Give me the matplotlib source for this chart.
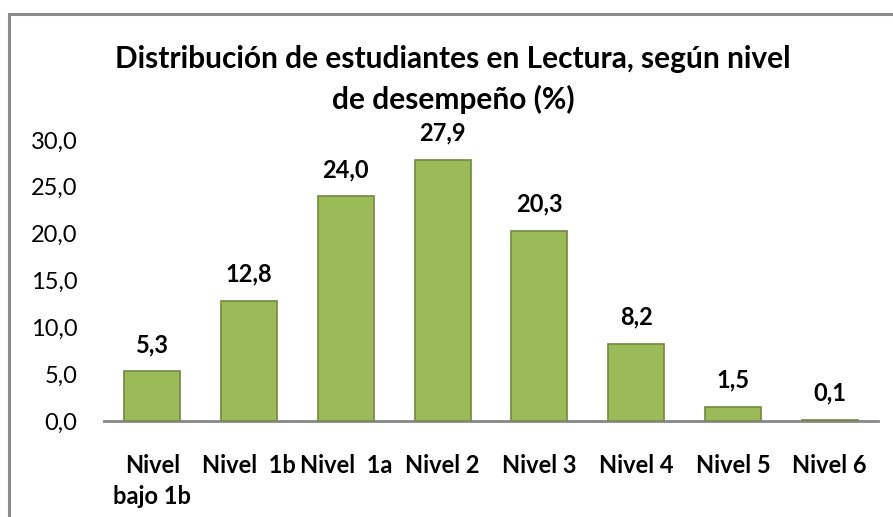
import matplotlib
matplotlib.use("Agg")
import matplotlib.pyplot as plt
from matplotlib.patches import Rectangle

categories = ["Nivel\nbajo 1b", "Nivel  1b", "Nivel  1a", "Nivel 2", "Nivel 3", "Nivel 4", "Nivel 5", "Nivel 6"]
values = [5.3, 12.8, 24.0, 27.9, 20.3, 8.2, 1.5, 0.1]
yticks = [0, 5, 10, 15, 20, 25, 30]
title = "Distribución de estudiantes en Lectura, según nivel\nde desempeño (%)"

plt.rcParams['font.family'] = ['Lato', 'DejaVu Sans']

W, H = 893, 517
fig = plt.figure(figsize=(W / 100, H / 100), dpi=100)
fig.patch.set_facecolor("white")

# outer chart frame
fig.add_artist(Rectangle((9 / W, -0.05), 1.2, (H - 14) / H + 0.05, transform=fig.transFigure,
                         fill=False, edgecolor="#8c8c8c", linewidth=2.2))

ax = fig.add_axes([104 / W, (H - 421) / H, (878 - 104) / W, (421 - 140) / H])
x = range(len(categories))
ax.bar(x, values, width=0.58, color="#9BBB59", edgecolor="#71893F", linewidth=1.2, zorder=3)
ax.set_xlim(-0.5, len(categories) - 0.5)
ax.set_ylim(0, 30)
ax.set_yticks(yticks)
ax.set_yticklabels([f"{v:.1f}".replace(".", ",") for v in yticks], fontsize=17)
ax.tick_params(axis="y", length=0, pad=19)
ax.tick_params(axis="x", length=0, pad=24)
ax.set_xticks(list(x))
ax.set_xticklabels(categories, fontsize=17, fontweight="bold", linespacing=1.42, va="top")
for s in ["left", "right", "top"]:
    ax.spines[s].set_visible(False)
ax.spines["bottom"].set_color("#868686")
ax.spines["bottom"].set_linewidth(2)

for i, v in enumerate(values):
    ax.annotate(f"{v:.1f}".replace(".", ","), (i, v), xytext=(0, 11), textcoords="offset points",
                ha="center", va="bottom", fontsize=17, fontweight="bold")

fig.text(453 / W, 1 - 45 / H, title, ha="center", va="top", fontsize=21.5, fontweight="bold",
         linespacing=1.48)

fig.savefig("out.png", dpi=100)
